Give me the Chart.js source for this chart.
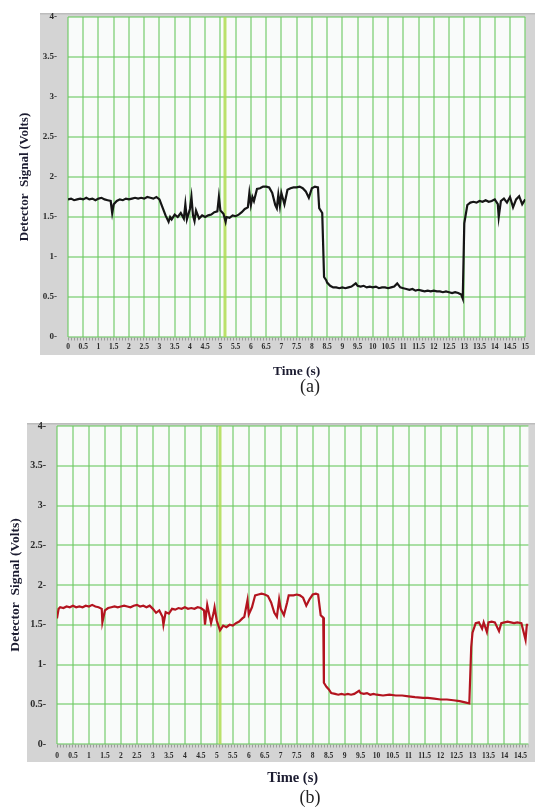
<!DOCTYPE html>
<html>
<head>
<meta charset="utf-8">
<script src="https://cdn.jsdelivr.net/npm/chart.js@4.4.0/dist/chart.umd.min.js"></script>
<style>
  body { margin: 0; background: #fff; width: 535px; height: 808px; position: relative; overflow: hidden; }
  canvas { position: absolute; left: 0; }
  #chartA { top: 0; }
  #chartB { top: 380px; }
  .etiqueta { position: absolute; width: 60px; text-align: center; font: 18px "Liberation Serif", serif; color: #222; }
</style>
</head>
<body>
<canvas id="chartA" width="535" height="380"></canvas>
<canvas id="chartB" width="535" height="428"></canvas>
<div class="etiqueta" style="left:280px; top:376px;">(a)</div>
<div class="etiqueta" style="left:280px; top:787px;">(b)</div>
<script>
// Datos (tiempo en s, senal en V)
const tiemposA = [0, 0.1, 0.2, 0.3, 0.4, 0.5, 0.6, 0.7, 0.8, 0.9, 1.0, 1.1, 1.2, 1.3, 1.4, 1.45, 1.5, 1.6, 1.7, 1.8, 1.9,
  2.0, 2.1, 2.2, 2.3, 2.4, 2.5, 2.6, 2.7, 2.8, 2.9, 3.0, 3.1, 3.2, 3.3, 3.35, 3.4, 3.5, 3.6, 3.7, 3.8, 3.85, 3.9,
  4.0, 4.05, 4.1, 4.15, 4.2, 4.3, 4.4, 4.5, 4.6, 4.7, 4.8, 4.9, 4.95, 5.0, 5.1, 5.17, 5.2, 5.3, 5.4, 5.5, 5.6, 5.7,
  5.8, 5.9, 5.95, 6.0, 6.05, 6.1, 6.2, 6.3, 6.4, 6.5, 6.6, 6.7, 6.8, 6.85, 6.9, 6.95, 7.0, 7.1, 7.2, 7.3, 7.4, 7.5,
  7.6, 7.7, 7.8, 7.9, 8.0, 8.1, 8.2, 8.24, 8.34, 8.4, 8.47, 8.5, 8.6, 8.7, 8.8, 8.9, 9.0, 9.1, 9.2, 9.3, 9.44, 9.5,
  9.6, 9.7, 9.8, 9.9, 10.0, 10.1, 10.2, 10.3, 10.4, 10.5, 10.6, 10.7, 10.8, 10.9, 11.0, 11.1, 11.2, 11.3, 11.4, 11.5,
  11.6, 11.7, 11.8, 11.9, 12.0, 12.1, 12.2, 12.3, 12.4, 12.5, 12.6, 12.7, 12.8, 12.9, 12.95, 13.0, 13.1, 13.2, 13.3,
  13.4, 13.5, 13.6, 13.7, 13.8, 13.9, 14.0, 14.1, 14.13, 14.2, 14.3, 14.4, 14.5, 14.6, 14.7, 14.8, 14.9, 15.0];
const voltajesA = [1.72, 1.73, 1.71, 1.72, 1.73, 1.72, 1.74, 1.72, 1.73, 1.71, 1.73, 1.74, 1.72, 1.71, 1.70, 1.55, 1.66, 1.70, 1.72, 1.71, 1.73,
  1.72, 1.73, 1.74, 1.73, 1.74, 1.73, 1.75, 1.74, 1.73, 1.75, 1.72, 1.62, 1.52, 1.44, 1.50, 1.47, 1.53, 1.50, 1.55, 1.48, 1.66, 1.47,
  1.60, 1.75, 1.52, 1.45, 1.58, 1.48, 1.52, 1.50, 1.52, 1.53, 1.56, 1.57, 1.75, 1.58, 1.54, 1.44, 1.50, 1.49, 1.52, 1.51, 1.53, 1.56,
  1.60, 1.62, 1.80, 1.65, 1.75, 1.70, 1.85, 1.86, 1.88, 1.88, 1.87, 1.80, 1.65, 1.61, 1.78, 1.64, 1.80, 1.66, 1.84, 1.86, 1.87, 1.87,
  1.88, 1.86, 1.82, 1.74, 1.86, 1.88, 1.87, 1.61, 1.55, 0.75, 0.71, 0.68, 0.64, 0.62, 0.62, 0.61, 0.62, 0.61, 0.62, 0.63, 0.67, 0.64,
  0.63, 0.64, 0.62, 0.63, 0.62, 0.63, 0.61, 0.62, 0.62, 0.61, 0.62, 0.63, 0.67, 0.62, 0.61, 0.60, 0.59, 0.60, 0.58, 0.59,
  0.58, 0.57, 0.58, 0.57, 0.58, 0.57, 0.57, 0.56, 0.57, 0.56, 0.55, 0.56, 0.55, 0.53, 0.48, 1.42, 1.65, 1.68, 1.69,
  1.68, 1.70, 1.69, 1.71, 1.69, 1.70, 1.72, 1.66, 1.50, 1.70, 1.73, 1.68, 1.75, 1.62, 1.72, 1.76, 1.66, 1.72];

const tiemposB = [0, 0.05, 0.1, 0.2, 0.3, 0.4, 0.5, 0.6, 0.7, 0.8, 0.9, 1.0, 1.1, 1.2, 1.3, 1.4, 1.42, 1.5, 1.6, 1.7, 1.8, 1.9,
  2.0, 2.1, 2.2, 2.3, 2.4, 2.5, 2.6, 2.7, 2.8, 2.9, 3.0, 3.1, 3.2, 3.3, 3.33, 3.4, 3.5, 3.6, 3.7, 3.8, 3.9,
  4.0, 4.1, 4.2, 4.3, 4.4, 4.5, 4.6, 4.63, 4.7, 4.82, 4.9, 4.93, 5.0, 5.1, 5.2, 5.3, 5.4, 5.5, 5.6, 5.7, 5.8, 5.86, 5.96,
  6.0, 6.1, 6.2, 6.3, 6.4, 6.5, 6.6, 6.7, 6.8, 6.88, 6.95, 7.0, 7.1, 7.2, 7.25, 7.4, 7.5, 7.6, 7.7, 7.8, 7.9,
  8.0, 8.1, 8.17, 8.25, 8.33, 8.35, 8.43, 8.5, 8.58, 8.7, 8.8, 8.9, 9.0, 9.1, 9.2, 9.3, 9.45, 9.5, 9.6, 9.7, 9.8, 9.9,
  10.0, 10.2, 10.4, 10.6, 10.8, 11.0, 11.2, 11.45, 11.6, 11.8, 12.0, 12.2, 12.4, 12.6, 12.8, 12.9, 12.96,
  13.0, 13.1, 13.2, 13.3, 13.35, 13.45, 13.5, 13.6, 13.7, 13.83, 13.9, 14.0, 14.1, 14.2, 14.3, 14.4, 14.53, 14.66, 14.7, 14.75];
const voltajesB = [1.58, 1.70, 1.72, 1.71, 1.73, 1.72, 1.74, 1.72, 1.73, 1.72, 1.74, 1.73, 1.75, 1.73, 1.72, 1.70, 1.53, 1.68, 1.71, 1.72, 1.73, 1.72,
  1.73, 1.74, 1.73, 1.72, 1.74, 1.75, 1.73, 1.74, 1.72, 1.74, 1.70, 1.65, 1.68, 1.60, 1.50, 1.66, 1.64, 1.70, 1.69, 1.71, 1.70,
  1.72, 1.70, 1.71, 1.70, 1.72, 1.71, 1.68, 1.50, 1.75, 1.52, 1.65, 1.72, 1.55, 1.43, 1.49, 1.47, 1.50, 1.49, 1.52, 1.54, 1.58, 1.60, 1.81,
  1.63, 1.72, 1.87, 1.88, 1.89, 1.88, 1.86, 1.78, 1.65, 1.60, 1.82, 1.70, 1.62, 1.78, 1.87, 1.87, 1.88, 1.87, 1.84, 1.74, 1.82,
  1.88, 1.89, 1.88, 1.62, 1.59, 0.77, 0.72, 0.69, 0.64, 0.63, 0.62, 0.63, 0.62, 0.63, 0.62, 0.63, 0.67, 0.64, 0.63, 0.64, 0.62, 0.63,
  0.62, 0.61, 0.62, 0.61, 0.61, 0.60, 0.59, 0.58, 0.58, 0.57, 0.56, 0.56, 0.55, 0.54, 0.52, 0.51, 1.22,
  1.40, 1.52, 1.53, 1.45, 1.53, 1.41, 1.53, 1.54, 1.53, 1.42, 1.52, 1.53, 1.54, 1.53, 1.52, 1.53, 1.52, 1.31, 1.50, 1.50];

// Marcas de los ejes
const ticksYVolts = [0, 0.5, 1, 1.5, 2, 2.5, 3, 3.5, 4];
const ticksXA = [0, 0.5, 1, 1.5, 2, 2.5, 3, 3.5, 4, 4.5, 5, 5.5, 6, 6.5, 7, 7.5, 8, 8.5, 9, 9.5, 10,
  10.5, 11, 11.5, 12, 12.5, 13, 13.5, 14, 14.5, 15];
const ticksXB = [0, 0.5, 1, 1.5, 2, 2.5, 3, 3.5, 4, 4.5, 5, 5.5, 6, 6.5, 7, 7.5, 8, 8.5, 9, 9.5, 10,
  10.5, 11, 11.5, 12, 12.5, 13, 13.5, 14, 14.5];

// posicion del cursor verde en cada captura
const cursorA = 5.15;
const cursorB = 5.1;

const colorGrid = 'rgba(105, 200, 95, 0.55)';
const fuente = '"Liberation Serif", "Times New Roman", serif';

// Marco gris del osciloscopio + cursor
const marcoPlugin = {
  id: 'marco',
  beforeDraw(chart, args, opts) {
    const { ctx, chartArea: a } = chart;
    const x0 = a.left - opts.izq;
    const y0 = a.top - opts.arriba;
    ctx.save();
    ctx.fillStyle = '#d4d4d4';
    ctx.fillRect(x0, y0, chart.width - x0, a.bottom - y0 + opts.abajo);
    ctx.fillStyle = '#bcbcbc';
    ctx.fillRect(x0, y0, chart.width - x0, 1.5);
    ctx.fillStyle = '#f9fbfa';
    ctx.fillRect(a.left, a.top, a.right - a.left, a.bottom - a.top);
    ctx.restore();
  },
  beforeDatasetsDraw(chart, args, opts) {
    const { ctx, chartArea: a, scales } = chart;
    const cx = scales.x.getPixelForValue(opts.cursor);
    ctx.save();
    ctx.strokeStyle = 'rgba(175, 220, 80, 0.85)';
    ctx.lineWidth = 3;
    ctx.beginPath();
    ctx.moveTo(cx, a.top);
    ctx.lineTo(cx, a.bottom);
    ctx.stroke();
    // rayitas menores del eje x
    ctx.strokeStyle = '#9c9c9c';
    ctx.lineWidth = 3;
    ctx.setLineDash([1, 2]);
    ctx.beginPath();
    ctx.moveTo(a.left, a.bottom + 2);
    ctx.lineTo(a.right, a.bottom + 2);
    ctx.stroke();
    ctx.restore();
  }
};

function crearGrafico(id, tiempos, voltajes, color, cfg) {
  const puntos = tiempos.map((t, i) => ({ x: t, y: voltajes[i] }));
  return new Chart(document.getElementById(id), {
    type: 'line',
    data: {
      datasets: [{
        data: puntos,
        borderColor: color,
        borderWidth: 2.2,
        pointRadius: 0,
        tension: 0
      }]
    },
    plugins: [marcoPlugin],
    options: {
      responsive: false,
      animation: false,
      layout: { padding: cfg.padding },
      plugins: {
        legend: { display: false },
        tooltip: { enabled: false },
        marco: { izq: cfg.marco[0], arriba: cfg.marco[1], abajo: cfg.marco[2], cursor: cfg.cursor }
      },
      scales: {
        x: {
          type: 'linear',
          min: 0,
          max: cfg.xMax,
          afterBuildTicks: s => { s.ticks = cfg.xTicks.map(v => ({ value: v })); },
          afterFit: s => { s.height = cfg.xAlto; },
          border: { display: false },
          grid: { color: colorGrid, lineWidth: 2, drawTicks: false },
          ticks: {
            autoSkip: false, maxRotation: 0, minRotation: 0,
            padding: cfg.xPad, color: '#2a2a2a',
            font: { family: fuente, weight: 'bold', size: 7.5 },
            callback: v => String(v)
          },
          title: {
            display: true, text: 'Time (s)', color: '#1b1b30',
            font: { family: fuente, weight: 'bold', size: cfg.xTituloSize },
            padding: { top: 0, bottom: 0 }
          }
        },
        y: {
          min: 0,
          max: 4,
          afterBuildTicks: s => { s.ticks = ticksYVolts.map(v => ({ value: v })); },
          afterFit: s => { s.width = cfg.yAncho; },
          border: { display: false },
          grid: { color: colorGrid, lineWidth: 2, drawTicks: false },
          ticks: {
            padding: 11, color: '#2a2a2a',
            font: { family: fuente, weight: 'bold', size: cfg.yTickSize },
            callback: v => v + '-'
          },
          title: {
            display: true, text: 'Detector  Signal (Volts)', color: '#1b1b30',
            font: { family: fuente, weight: 'bold', size: cfg.yTituloSize },
            padding: { top: cfg.yTituloPad, bottom: 0 }
          }
        }
      }
    }
  });
}

crearGrafico('chartA', tiemposA, voltajesA, '#151515', {
  padding: { top: 17, left: 0, right: 3, bottom: 0 },
  marco: [28, 4, 18],
  cursor: cursorA,
  xMax: 15, xTicks: ticksXA, xAlto: 43, xPad: 6, xTituloSize: 13.5,
  yAncho: 68, yTickSize: 9, yTituloSize: 13, yTituloPad: 17
});

crearGrafico('chartB', tiemposB, voltajesB, '#b3141f', {
  padding: { top: 46, left: 0, right: 0, bottom: 21 },
  marco: [30, 3, 18],
  cursor: cursorB,
  xMax: 14.75, xTicks: ticksXB, xAlto: 43, xPad: 8, xTituloSize: 14.5,
  yAncho: 57, yTickSize: 10, yTituloSize: 13.5, yTituloPad: 7
});
</script>
</body>
</html>
